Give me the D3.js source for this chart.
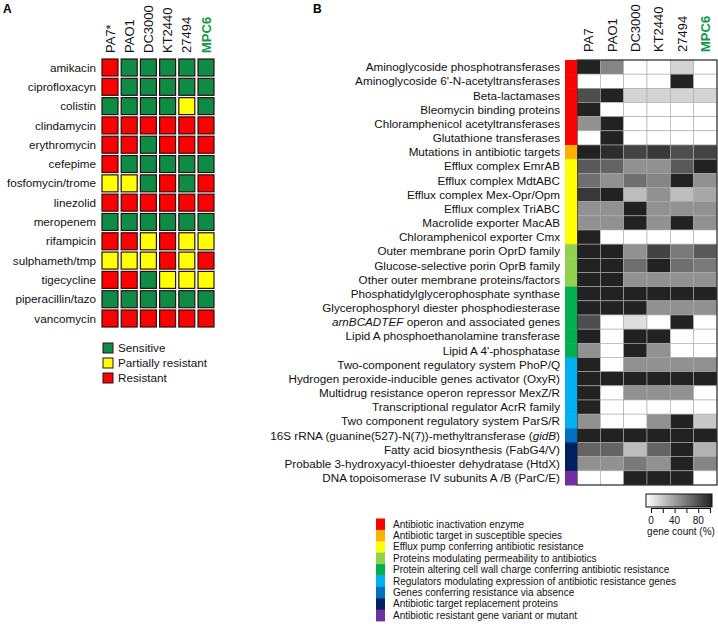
<!DOCTYPE html>
<html><head><meta charset="utf-8">
<script src="https://cdn.jsdelivr.net/npm/d3@7"></script>
<style>body{margin:0;background:#fff}svg{display:block;font-family:"Liberation Sans",Arial,sans-serif}</style>
</head><body><svg id="c" width="718" height="628"></svg>
<script>
// ---------- Panel A data ----------
const strainsA = ["PA7*", "PAO1", "DC3000", "KT2440", "27494", "MPC6"];
const antibiotics = ["amikacin","ciprofloxacyn","colistin","clindamycin","erythromycin","cefepime",
  "fosfomycin/trome","linezolid","meropenem","rifampicin","sulphameth/tmp","tigecycline",
  "piperacillin/tazo","vancomycin"];
// S = sensitive, P = partially resistant, R = resistant
const susceptibility = [
  ["R","S","S","S","S","S"],
  ["R","S","S","S","S","S"],
  ["S","S","S","S","P","S"],
  ["R","R","R","R","R","R"],
  ["R","R","S","R","R","R"],
  ["R","S","S","S","S","S"],
  ["P","P","S","R","S","R"],
  ["R","R","R","R","R","R"],
  ["S","S","S","S","S","S"],
  ["R","R","P","R","P","P"],
  ["P","P","P","R","P","R"],
  ["R","R","S","P","P","P"],
  ["S","S","S","S","S","S"],
  ["R","R","R","R","R","R"]
];
const susceptCodes = ["S","P","R"];
const susceptLabels = ["Sensitive","Partially resistant","Resistant"];
const susceptColors = ["#0e8c46","#ffff00","#ff0000"];

// ---------- Panel B data ----------
const strainsB = ["PA7", "PAO1", "DC3000", "KT2440", "27494", "MPC6"];
const genes = ["Aminoglycoside phosphotransferases","Aminoglycoside 6'-N-acetyltransferases","Beta-lactamases",
  "Bleomycin binding proteins","Chloramphenicol acetyltransferases","Glutathione transferases",
  "Mutations in antibiotic targets","Efflux complex EmrAB","Efflux complex MdtABC","Efflux complex Mex-Opr/Opm",
  "Efflux complex TriABC","Macrolide exporter MacAB","Chloramphenicol exporter Cmx",
  "Outer membrane porin OprD family","Glucose-selective porin OprB family","Other outer membrane proteins/factors",
  "Phosphatidylglycerophosphate synthase","Glycerophosphoryl diester phosphodiesterase",
  "arnBCADTEF operon and associated genes","Lipid A phosphoethanolamine transferase","Lipid A 4'-phosphatase",
  "Two-component regulatory system PhoP/Q","Hydrogen peroxide-inducible genes activator (OxyR)",
  "Multidrug resistance operon repressor MexZ/R","Transcriptional regulator AcrR family",
  "Two component regulatory system ParS/R","16S rRNA (guanine(527)-N(7))-methyltransferase (gidB)",
  "Fatty acid biosynthesis (FabG4/V)","Probable 3-hydroxyacyl-thioester dehydratase (HtdX)",
  "DNA topoisomerase IV subunits A /B (ParC/E)"];
const italicTerms = ["arnBCADTEF", "gidB"];
// gene count (%) per strain (PA7, PAO1, DC3000, KT2440, 27494, MPC6)
const geneCount = [
  [100, 55, 0, 0, 20, 0],
  [0, 0, 0, 0, 100, 0],
  [80, 100, 20, 20, 20, 20],
  [100, 0, 0, 0, 0, 0],
  [50, 100, 0, 0, 0, 0],
  [0, 100, 0, 0, 0, 0],
  [100, 95, 85, 90, 80, 85],
  [75, 70, 50, 50, 75, 100],
  [65, 50, 65, 55, 100, 50],
  [90, 100, 30, 50, 30, 40],
  [50, 50, 100, 50, 50, 50],
  [50, 50, 100, 50, 100, 50],
  [100, 0, 0, 0, 0, 0],
  [100, 100, 50, 85, 60, 75],
  [100, 100, 65, 100, 65, 60],
  [100, 100, 50, 50, 50, 50],
  [100, 100, 100, 100, 100, 100],
  [100, 100, 100, 50, 50, 50],
  [80, 0, 15, 0, 100, 0],
  [100, 0, 100, 100, 0, 0],
  [50, 0, 100, 50, 0, 0],
  [100, 0, 50, 50, 50, 50],
  [100, 100, 100, 100, 100, 100],
  [100, 0, 50, 50, 50, 0],
  [100, 0, 0, 0, 0, 0],
  [50, 0, 0, 50, 100, 25],
  [100, 100, 100, 100, 100, 100],
  [70, 70, 30, 70, 100, 35],
  [50, 50, 60, 50, 100, 55],
  [0, 0, 100, 100, 100, 0]
];
const mechanisms = ["Antibiotic inactivation enzyme","Antibiotic target in susceptible species",
  "Efflux pump conferring antibiotic resistance","Proteins modulating permeability to antibiotics",
  "Protein altering cell wall charge conferring antibiotic resistance",
  "Regulators modulating expression of antibiotic resistance genes","Genes conferring resistance via absence",
  "Antibiotic target replacement proteins","Antibiotic resistant gene variant or mutant"];
const mechanismColors = ["#ff0000","#ffb000","#ffff00","#92d050","#00b050","#00b0f0","#0070c0","#002060","#7030a0"];
// mechanism index for each gene row
const geneMechanism = [0,0,0,0,0,0,1,2,2,2,2,2,2,3,3,3,4,4,4,4,4,5,5,5,5,5,6,7,7,8];
const countTicks = [0, 20, 40, 60, 80, 100];
const countTickLabels = [0, 40, 80];

const svg = d3.select("#c");
svg.append("rect").attr("width",718).attr("height",628).attr("fill","#fff");

// ================= Panel A =================
const gA = svg.append("g");
gA.append("text").attr("x",3).attr("y",13).attr("font-weight","bold").attr("font-size",12).text("A");
const xA = d3.scaleBand().domain(strainsA).range([102, 214]).paddingInner(0.167);
const yA = d3.scaleBand().domain(antibiotics).range([59, 327]).paddingInner(0.12);
const colA = d3.scaleOrdinal().domain(susceptCodes).range(susceptColors);

antibiotics.forEach((ab, i) => {
  gA.selectAll(null).data(susceptibility[i]).join("rect")
    .attr("x", (d, j) => xA(strainsA[j])).attr("y", yA(ab))
    .attr("width", xA.bandwidth()).attr("height", yA.bandwidth())
    .attr("fill", d => colA(d)).attr("stroke", "#2a1010").attr("stroke-width", 1.2);
});
gA.selectAll("text.rl").data(antibiotics).join("text").attr("class","rl")
  .attr("x", 96).attr("y", d => yA(d) + yA.bandwidth()/2).attr("dy","0.35em")
  .attr("text-anchor","end").attr("font-size",11.7).attr("fill","#111").text(d => d);
gA.selectAll("text.ch").data(strainsA).join("text").attr("class","ch")
  .attr("transform", d => `translate(${xA(d) + xA.bandwidth()/2 + 4.6},53) rotate(-90)`)
  .attr("font-size",13).attr("fill", d => d === "MPC6" ? "#12974a" : "#111")
  .attr("font-weight", d => d === "MPC6" ? "bold" : "normal").text(d => d);
// legend A
const legA = gA.append("g");
susceptCodes.forEach((c, i) => {
  legA.append("rect").attr("x",103).attr("y",343 + i*15).attr("width",10).attr("height",10)
    .attr("fill", colA(c)).attr("stroke","#2a1010").attr("stroke-width",1);
  legA.append("text").attr("x",118).attr("y",348 + i*15).attr("dy","0.35em")
    .attr("font-size",11.7).attr("fill","#111").text(susceptLabels[i]);
});

// ================= Panel B =================
const gB = svg.append("g");
gB.append("text").attr("x",313).attr("y",13).attr("font-weight","bold").attr("font-size",12).text("B");
const xB = d3.scaleBand().domain(strainsB).range([577, 717]);
const yB = d3.scaleBand().domain(genes).range([60, 485]);
const gray = d3.scaleLinear().domain([0, 100]).range(["#ffffff", "#222222"]);

genes.forEach((g, i) => {
  gB.selectAll(null).data(geneCount[i]).join("rect")
    .attr("x", (d, j) => xB(strainsB[j])).attr("y", yB(g))
    .attr("width", xB.bandwidth()).attr("height", yB.bandwidth())
    .attr("fill", d => gray(d)).attr("stroke", "#aaa").attr("stroke-width", 0.6);
});
gB.append("rect").attr("x",577).attr("y",60).attr("width",140).attr("height",425)
  .attr("fill","none").attr("stroke","#111").attr("stroke-width",1);
// mechanism color band
gB.selectAll("rect.band").data(genes).join("rect").attr("class","band")
  .attr("x",565).attr("y", d => yB(d)).attr("width",12).attr("height", yB.bandwidth() + 0.5)
  .attr("fill", (d, i) => mechanismColors[geneMechanism[i]]);
// row labels with italics
const italRe = new RegExp("(" + italicTerms.join("|") + ")");
const rl = gB.selectAll("text.rl").data(genes).join("text").attr("class","rl")
  .attr("x", 560).attr("y", d => yB(d) + yB.bandwidth()/2).attr("dy","0.35em")
  .attr("text-anchor","end").attr("font-size",11.7).attr("fill","#111");
rl.each(function(d) {
  const parts = d.split(italRe).filter(p => p.length);
  const t = d3.select(this);
  parts.forEach(p => t.append("tspan").attr("font-style", italicTerms.includes(p) ? "italic" : "normal").text(p));
});
gB.selectAll("text.ch").data(strainsB).join("text").attr("class","ch")
  .attr("transform", d => `translate(${xB(d) + xB.bandwidth()/2 + 4.6},52) rotate(-90)`)
  .attr("font-size",13).attr("fill", d => d === "MPC6" ? "#12974a" : "#111")
  .attr("font-weight", d => d === "MPC6" ? "bold" : "normal").text(d => d);

// mechanism legend
const yL = d3.scaleBand().domain(mechanisms).range([518.5, 621]);
gB.selectAll("rect.lg").data(mechanisms).join("rect").attr("class","lg")
  .attr("x",376).attr("y", d => yL(d)).attr("width",9).attr("height", yL.bandwidth() + 0.4)
  .attr("fill", (d, i) => mechanismColors[i]);
gB.selectAll("text.lg").data(mechanisms).join("text").attr("class","lg")
  .attr("x",393).attr("y", d => yL(d) + yL.bandwidth()/2).attr("dy","0.35em")
  .attr("font-size",10).attr("fill","#111").text(d => d);

// gradient scale legend
const defs = svg.append("defs");
const grad = defs.append("linearGradient").attr("id","gg");
grad.append("stop").attr("offset","0%").attr("stop-color", gray(0));
grad.append("stop").attr("offset","100%").attr("stop-color", gray(100));
gB.append("rect").attr("x",646).attr("y",494).attr("width",66).attr("height",13)
  .attr("fill","url(#gg)").attr("stroke","#111").attr("stroke-width",1);
const xC = d3.scaleLinear().domain([0, 100]).range([651, 710]);
const axC = gB.append("g").attr("transform","translate(0,508)")
  .call(d3.axisBottom(xC).tickValues(countTicks).tickSize(5).tickFormat(""));
axC.select(".domain").attr("stroke","#111");
axC.selectAll(".tick line").attr("stroke","#111");
gB.selectAll("text.tl").data(countTickLabels).join("text").attr("class","tl")
  .attr("x", d => xC(d)).attr("y", 524).attr("text-anchor","middle").attr("font-size",10).attr("fill","#111").text(d => d);
gB.append("text").attr("x",681).attr("y",535).attr("text-anchor","middle").attr("font-size",10)
  .attr("fill","#111").text("gene count (%)");
</script></body></html>
